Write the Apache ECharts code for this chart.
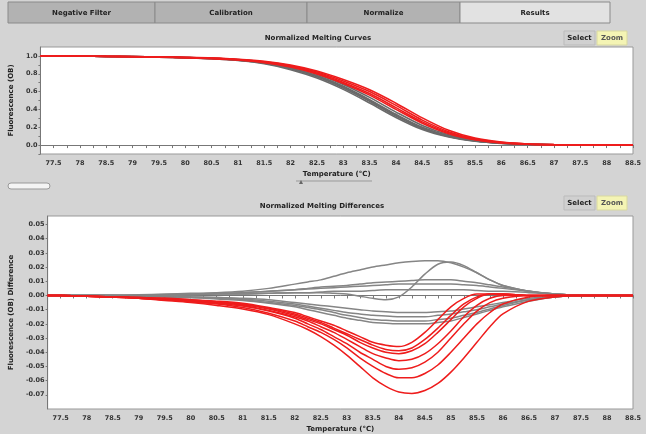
<!DOCTYPE html>
<html><head><meta charset="utf-8">
<script src="https://cdn.jsdelivr.net/npm/echarts@6/dist/echarts.min.js"></script>
<style>html,body{margin:0;padding:0;background:#d4d4d4}#c{width:646px;height:434px}</style>
</head><body><div id="c"></div>
<script>
// ---- data ----
const temps = [77.25,77.5,78,78.5,79,79.5,80,80.5,81,81.5,82,82.5,83,83.5,84,84.5,85,85.5,86,86.5,87,87.5,88,88.5];
const tempsDiff = [77.25,77.5,78,78.5,79,79.5,80,80.5,81,81.5,82,82.25,82.5,82.75,83,83.25,83.5,83.75,84,84.25,84.5,84.75,85,85.25,85.5,85.75,86,86.5,87,87.5,88,88.5];
const tabLabels = ['Negative Filter','Calibration','Normalize','Results'];
const topTitle = 'Normalized Melting Curves';
const bottomTitle = 'Normalized Melting Differences';
const xName = 'Temperature (°C)';
const topYName = 'Fluorescence (OB)';
const bottomYName = 'Fluorescence (OB) Difference';

// normalized melting curves (top), on temps
const meltRedA = [1,1.0,0.998,0.996,0.993,0.989,0.984,0.977,0.963,0.94,0.897,0.83,0.735,0.62,0.47,0.305,0.165,0.078,0.033,0.013,0.005,0.002,0.001,0];
const meltRedB = [1,1.0,0.998,0.995,0.992,0.988,0.983,0.975,0.96,0.935,0.89,0.82,0.72,0.6,0.445,0.28,0.15,0.07,0.03,0.012,0.005,0.002,0.001,0];
const meltRedC = [1,1.0,0.998,0.995,0.991,0.987,0.981,0.972,0.957,0.93,0.882,0.808,0.703,0.578,0.42,0.26,0.138,0.064,0.027,0.011,0.004,0.002,0.001,0];
const meltRedD = [1,1.0,0.997,0.994,0.99,0.986,0.98,0.97,0.954,0.925,0.875,0.797,0.69,0.56,0.4,0.245,0.128,0.06,0.025,0.01,0.004,0.002,0.001,0];
const meltGrayA = [1,1.0,0.998,0.995,0.992,0.988,0.982,0.974,0.958,0.93,0.875,0.795,0.68,0.535,0.37,0.22,0.115,0.055,0.024,0.011,0.004,0.002,0.001,0];
const meltGrayB = [1,1.0,0.998,0.995,0.992,0.988,0.982,0.973,0.955,0.925,0.865,0.78,0.66,0.51,0.345,0.2,0.105,0.05,0.022,0.01,0.004,0.002,0.001,0];
const meltGrayC = [1,1.0,0.997,0.994,0.991,0.986,0.98,0.97,0.951,0.918,0.855,0.765,0.64,0.49,0.325,0.185,0.096,0.046,0.02,0.009,0.004,0.002,0.001,0];
const meltGrayD = [1,1.0,0.997,0.994,0.99,0.985,0.978,0.968,0.948,0.912,0.846,0.752,0.625,0.472,0.31,0.174,0.09,0.043,0.019,0.008,0.003,0.001,0.001,0];
const meltGrayE = [1,1.0,0.998,0.995,0.992,0.987,0.981,0.971,0.953,0.922,0.86,0.772,0.65,0.5,0.335,0.193,0.1,0.048,0.021,0.01,0.004,0.002,0.001,0];

// normalized melting differences (bottom), on tempsDiff
const diffRed1 = [0,0,-0.0005,-0.001,-0.0015,-0.002,-0.003,-0.004,-0.0055,-0.0085,-0.012, -0.015,-0.018,-0.021,-0.025,-0.029,-0.033,-0.035,-0.036,-0.033,-0.026,-0.017,-0.008,-0.002,0.001,0.001,0.001, 0,0,0,0,0];
const diffRed2 = [0,0,-0.0005,-0.001,-0.0015,-0.0025,-0.0035,-0.0045,-0.0065,-0.0095,-0.014, -0.017,-0.020,-0.024,-0.028,-0.033,-0.037,-0.040,-0.041,-0.039,-0.034,-0.026,-0.017,-0.008,-0.002,0.001,0.001, 0,0,0,0,0];
const diffRed3 = [0,0,-0.0005,-0.001,-0.002,-0.003,-0.004,-0.005,-0.007,-0.0105,-0.015, -0.018,-0.022,-0.026,-0.031,-0.036,-0.041,-0.044,-0.046,-0.045,-0.041,-0.034,-0.025,-0.015,-0.007,-0.002,0, 0,0,0,0,0];
const diffRed4 = [0,0,-0.0005,-0.001,-0.002,-0.003,-0.004,-0.0055,-0.0075,-0.011,-0.016, -0.020,-0.024,-0.029,-0.034,-0.040,-0.045,-0.050,-0.052,-0.051,-0.047,-0.040,-0.030,-0.020,-0.011,-0.005,-0.002, 0,0,0,0,0];
const diffRed5 = [0,0,-0.0005,-0.001,-0.002,-0.003,-0.0045,-0.006,-0.0085,-0.0125,-0.018, -0.022,-0.026,-0.031,-0.037,-0.044,-0.050,-0.055,-0.058,-0.058,-0.055,-0.049,-0.040,-0.030,-0.020,-0.012,-0.006, -0.001,0,0,0,0];
const diffRed6 = [0,0,-0.0005,-0.001,-0.002,-0.0035,-0.005,-0.007,-0.0095,-0.0135,-0.020, -0.024,-0.029,-0.035,-0.042,-0.050,-0.058,-0.064,-0.068,-0.069,-0.067,-0.062,-0.054,-0.044,-0.033,-0.022,-0.013, -0.004,-0.001,0,0,0];
const diffRed7 = [0,0,-0.0005,-0.001,-0.0015,-0.002,-0.003,-0.0045,-0.006,-0.009,-0.013, -0.016,-0.019,-0.023,-0.027,-0.031,-0.035,-0.038,-0.039,-0.037,-0.031,-0.023,-0.014,-0.006,-0.001,0.001,0.001, 0,0,0,0,0];
const diffGray1 = [0,0,0,0,0,-0.0005,-0.001,-0.0015,-0.002,-0.003,-0.005, -0.006,-0.007,-0.008,-0.009,-0.010,-0.011,-0.0115,-0.012,-0.012,-0.012,-0.0115,-0.011,-0.0095,-0.008,-0.0065,-0.005, -0.002,-0.0005,0,0,0];
const diffGray2 = [0,0,0,0,0,-0.0005,-0.001,-0.0015,-0.0025,-0.004,-0.006, -0.0075,-0.009,-0.0105,-0.012,-0.013,-0.014,-0.0145,-0.015,-0.015,-0.015,-0.014,-0.013,-0.0115,-0.010,-0.008,-0.006, -0.003,-0.001,0,0,0];
const diffGray3 = [0,0,0,0,-0.0005,-0.001,-0.0015,-0.002,-0.003,-0.005,-0.007, -0.0085,-0.010,-0.012,-0.014,-0.0155,-0.017,-0.0175,-0.018,-0.018,-0.018,-0.017,-0.016,-0.014,-0.012,-0.0095,-0.007, -0.003,-0.001,0,0,0];
const diffGray4 = [0,0,0,0,-0.0005,-0.001,-0.0015,-0.0025,-0.0035,-0.0055,-0.008, -0.010,-0.012,-0.014,-0.016,-0.0175,-0.019,-0.0195,-0.020,-0.020,-0.020,-0.019,-0.018,-0.0155,-0.013,-0.0105,-0.008, -0.004,-0.001,0,0,0];
const diffGray5 = [0,0,0,0,0,0.0005,0.001,0.0015,0.002,0.003,0.004, 0.0045,0.005,0.0055,0.006,0.0065,0.007,0.0075,0.008,0.008,0.008,0.008,0.008,0.0075,0.007,0.006,0.005, 0.003,0.001,0,0,0];
const diffGray6 = [0,0,0,0,0,0.0005,0.001,0.0015,0.002,0.003,0.004, 0.005,0.006,0.0065,0.007,0.008,0.009,0.0095,0.010,0.0105,0.011,0.011,0.011,0.010,0.009,0.0075,0.006, 0.003,0.001,0,0,0];
const diffGray7 = [0,0,0,0,0,0,0.0005,0.001,0.001,0.0015,0.002, 0.002,0.0025,0.003,0.003,0.003,0.0035,0.004,0.004,0.004,0.004,0.004,0.004,0.004,0.0035,0.003,0.003, 0.002,0.001,0,0,0];
const diffGray8 = [0,0,0,0,0.0005,0.001,0.0015,0.002,0.003,0.005,0.008, 0.0095,0.011,0.0135,0.016,0.018,0.020,0.0215,0.023,0.024,0.0245,0.0245,0.023,0.020,0.016,0.011,0.007, 0.003,0.001,0,0,0];
const diffGray9 = [0,0,0,0,0,0,0.0005,0.001,0.001,0.0015,0.002, 0.002,0.002,0.0015,0.001,-0.0005,-0.002,-0.003,-0.001,0.006,0.015,0.022,0.0235,0.021,0.016,0.011,0.007, 0.003,0.001,0,0,0];

const topGray = [meltGrayA,meltGrayB,meltGrayC,meltGrayD,meltGrayE];
const topRed = [meltRedA,meltRedB,meltRedC,meltRedD];
const botGray = [diffGray1,diffGray2,diffGray3,diffGray4,diffGray5,diffGray6,diffGray7,diffGray8,diffGray9];
const botRed = [diffRed1,diffRed2,diffRed3,diffRed4,diffRed5,diffRed6,diffRed7];

// ---- chart ----
const FONT = 'DejaVu Sans';
const RED = '#ee1c1c', GRAY = '#858585';
const chart = echarts.init(document.getElementById('c'), null, {renderer:'canvas'});

function mk(xs, arr, gi, color, w){
  return {type:'line', xAxisIndex:gi, yAxisIndex:gi, smooth:0.3, symbol:'none', silent:true,
    lineStyle:{color:color, width:w}, data: xs.map((t,i)=>[t, arr[i]])};
}
const series = [];
topGray.forEach(a=>series.push(mk(temps,a,0,'#6a6a6a',1.6)));
topRed.forEach(a=>series.push(mk(temps,a,0,RED,1.6)));
botGray.forEach(a=>series.push(mk(tempsDiff,a,1,GRAY,1.5)));
botRed.forEach(a=>series.push(mk(tempsDiff,a,1,RED,1.5)));

const lab = {fontSize:6.5, color:'#333', fontFamily:FONT, fontWeight:'bold'};
function xAx(gi){
  return {gridIndex:gi, type:'value', min:77.25, max:88.5, interval:0.25,
    axisLine:{lineStyle:{color:'#777'}}, axisTick:{length:3, lineStyle:{color:'#777'}},
    splitLine:{show:false},
    axisLabel:Object.assign({margin:6, formatter:v=>{const k=Math.round(v*100);return (k%50===0)?String(k/100):'';}}, lab),
    name:xName, nameLocation:'middle', nameGap:17,
    nameTextStyle:{fontSize:7, fontWeight:'bold', color:'#222', fontFamily:FONT}};
}

const tabX = [8,155,307,460,610];
const graphics = [];
tabLabels.forEach((t,i)=>{
  graphics.push({type:'rect', shape:{x:tabX[i], y:2, width:tabX[i+1]-tabX[i], height:21},
    style:{fill: i===3?'#e2e2e2':'#b2b2b2', stroke:'#8a8a8a', lineWidth:1}});
  graphics.push({type:'text', x:(tabX[i]+tabX[i+1])/2, y:13,
    style:{text:t, fill:'#222', font:'bold 7px '+FONT, textAlign:'center', textVerticalAlign:'middle'}});
});
[[38,topTitle,318],[206,bottomTitle,322]].forEach(([y,t,x])=>{
  graphics.push({type:'text', x:x, y:y, style:{text:t, fill:'#222', font:'bold 7px '+FONT, textAlign:'center', textVerticalAlign:'middle'}});
});
[38,203].forEach(y=>{
  graphics.push({type:'rect', shape:{x:564,y:y-7,width:31,height:14}, style:{fill:'#d0d0d0', stroke:'#bbb'}});
  graphics.push({type:'text', x:579.5, y:y, style:{text:'Select', fill:'#222', font:'bold 7px '+FONT, textAlign:'center', textVerticalAlign:'middle'}});
  graphics.push({type:'rect', shape:{x:597,y:y-7,width:30,height:14}, style:{fill:'#f4f4b4', stroke:'#d8d8a0'}});
  graphics.push({type:'text', x:612, y:y, style:{text:'Zoom', fill:'#555', font:'bold 7px '+FONT, textAlign:'center', textVerticalAlign:'middle'}});
});
graphics.push({type:'rect', shape:{x:8,y:183,width:42,height:6,r:3}, style:{fill:'#f4f4f4', stroke:'#999'}});
graphics.push({type:'line', shape:{x1:296,y1:181,x2:372,y2:181}, style:{stroke:'#999', lineWidth:1}});
graphics.push({type:'polygon', shape:{points:[[299,184],[301,180],[303,184]]}, style:{fill:'#666'}});

chart.setOption({
  backgroundColor:'#d4d4d4',
  animation:false,
  graphic:graphics,
  grid:[
    {left:38, right:13, top:47, height:107, show:true, backgroundColor:'#fff', borderColor:'#999', borderWidth:1},
    {left:37, right:13, top:216, height:196, show:true, backgroundColor:'#fff', borderColor:'#999', borderWidth:1}
  ],
  xAxis:[xAx(0), xAx(1)],
  yAxis:[
    {gridIndex:0, type:'value', min:-0.1, max:1.1, interval:0.1,
     axisLine:{show:true, lineStyle:{color:'#777'}}, axisTick:{show:true, length:2, lineStyle:{color:'#777'}},
     splitLine:{show:false},
     axisLabel:Object.assign({margin:3, showMaxLabel:false, formatter:v=>{const k=Math.round(v*10);return (k>=0&&k%2===0)?(k/10).toFixed(1):'';}}, lab),
     name:topYName, nameLocation:'middle', nameRotate:90, nameGap:20,
     nameTextStyle:{fontSize:7, fontWeight:'bold', color:'#222', fontFamily:FONT}},
    {gridIndex:1, type:'value', min:-0.08, max:0.056, interval:0.01,
     axisLine:{show:true, lineStyle:{color:'#777'}}, axisTick:{show:true, length:2, lineStyle:{color:'#777'}},
     splitLine:{show:false},
     axisLabel:Object.assign({margin:3, showMaxLabel:false, showMinLabel:false, formatter:v=>(Math.round(v*100)/100).toFixed(2)}, lab),
     name:bottomYName, nameLocation:'middle', nameRotate:90, nameGap:24,
     nameTextStyle:{fontSize:7, fontWeight:'bold', color:'#222', fontFamily:FONT}}
  ],
  series:series
});
</script></body></html>
